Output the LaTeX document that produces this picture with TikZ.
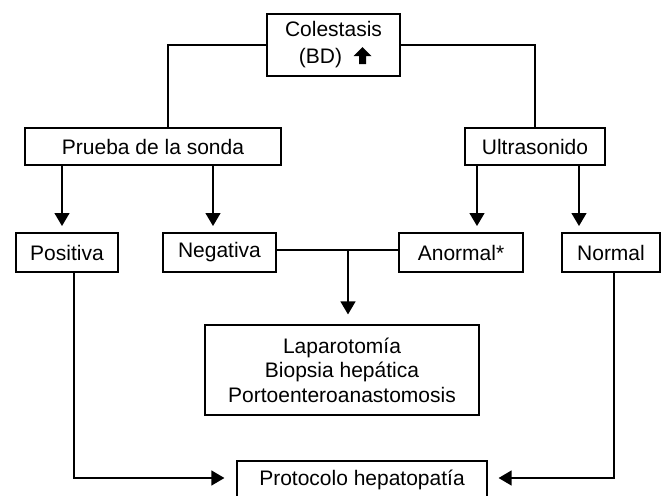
\documentclass[tikz,border=0pt]{standalone}
\usepackage{fontspec}
\setmainfont{Liberation Sans}
\usetikzlibrary{arrows.meta}
\begin{document}
\begin{tikzpicture}[x=1pt,y=-1pt,
  box/.style={draw,line width=1.2pt,inner sep=0pt,align=center,
    font=\fontsize{21pt}{26pt}\selectfont},
  conn/.style={line width=1.3pt},
  arr/.style={conn,-{Triangle[width=15pt,length=13pt]}}]
\useasboundingbox (0,0) rectangle (665,496);
\node[box,minimum width=133pt,minimum height=62pt,font=\fontsize{21pt}{27pt}\selectfont] (col) at (333.5,45) {Colestasis\\(BD)\hspace*{26pt}};
\fill ([shift={(29,10.5)}]col.center) ++(0,-8.5) -- ++(9,9) -- ++(-5.5,0) -- ++(0,8) -- ++(-7,0) -- ++(0,-8) -- ++(-5.5,0) -- cycle;
\node[box,minimum width=256pt,minimum height=37pt] (prueba) at (153,146.5) {Prueba de la sonda};
\node[box,minimum width=140pt,minimum height=37pt] (ultra) at (535,146.5) {Ultrasonido};
\node[box,minimum width=102pt,minimum height=39pt] (pos) at (67,252.5) {Positiva};
\node[box,minimum width=113pt,minimum height=39pt] (neg) at (219.5,252.5) {Negativa};
\node[box,minimum width=124pt,minimum height=39pt] (anor) at (461,252.5) {Anormal*};
\node[box,minimum width=98pt,minimum height=39pt] (norm) at (611,252.5) {Normal};
\node[box,minimum width=274pt,minimum height=90pt,font=\fontsize{21pt}{24.5pt}\selectfont] (lap) at (342,370) {Laparotom\'ia\\Biopsia hep\'atica\\Portoenteroanastomosis};
\node[box,minimum width=250pt,minimum height=37pt] (prot) at (362,479.5) {Protocolo hepatopat\'ia};
\coordinate (a1) at (62,226);
\coordinate (a2) at (213,226);
\coordinate (a3) at (477,226);
\coordinate (a4) at (579,226);
\coordinate (j) at (348,250);
\draw[conn] (col.west) -| ([xshift=15pt]prueba.north);
\draw[conn] (col.east) -| (ultra.north);
\draw[arr] (prueba.south -| a1) -- (a1);
\draw[arr] (prueba.south -| a2) -- (a2);
\draw[arr] (ultra.south -| a3) -- (a3);
\draw[arr] (ultra.south -| a4) -- (a4);
\draw[conn] ([yshift=2.5pt]neg.east) -- ([yshift=2.5pt]anor.west);
\draw[arr,shorten >=10pt] (j) -- (j |- lap.north);
\draw[arr,shorten >=12pt] ([xshift=7pt]pos.south) |- ([yshift=1.5pt]prot.west);
\draw[arr,shorten >=11pt] ([xshift=3pt]norm.south) |- ([yshift=1.5pt]prot.east);
\end{tikzpicture}
\end{document}
